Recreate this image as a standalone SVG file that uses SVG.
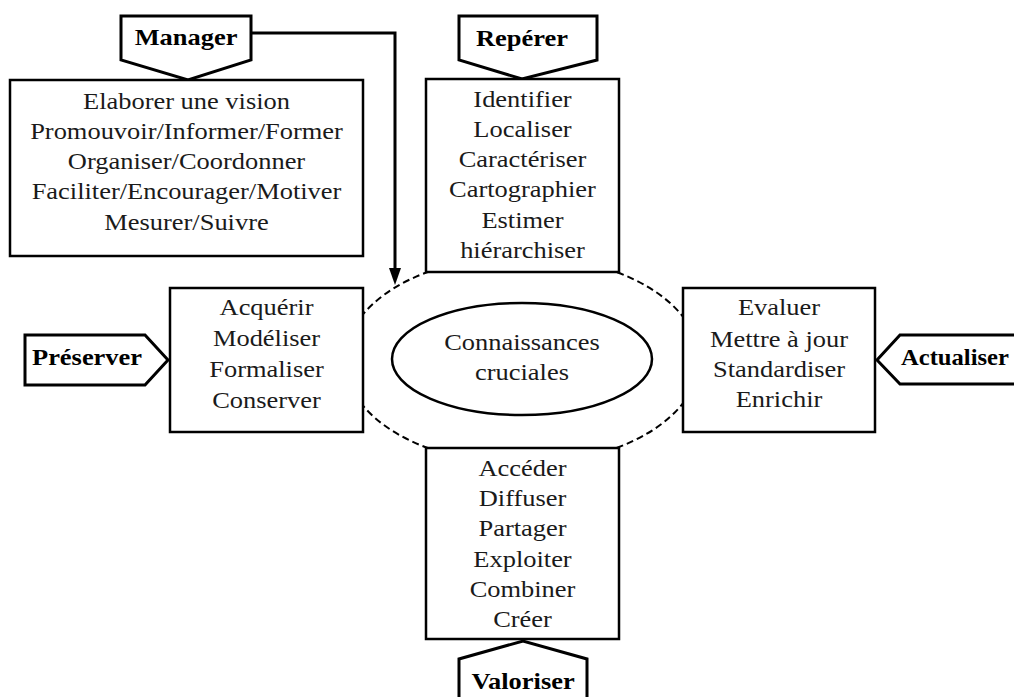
<svg xmlns="http://www.w3.org/2000/svg" width="1014" height="697" viewBox="0 0 1014 697">
<style>
.box{fill:#fff;stroke:#000;stroke-width:2.5}
.tag{fill:#fff;stroke:#000;stroke-width:3;stroke-linejoin:miter}
.t{font-family:"Liberation Serif","Times New Roman",serif;font-size:23px;fill:#1a1a1a;text-anchor:middle}
.b{font-family:"Liberation Serif","Times New Roman",serif;font-size:23px;font-weight:bold;fill:#000}
.dash{fill:none;stroke:#000;stroke-width:2;stroke-dasharray:7 4}
.line{fill:none;stroke:#000;stroke-width:3}
</style>
<rect width="1014" height="697" fill="#fff"/>
<ellipse class="dash" cx="522" cy="360" rx="177" ry="104"/>
<g id="connectors">
<polyline class="line" points="251,33 395,33 395,268"/>
<path d="M389,268 L401,268 L395,285 Z" fill="#000"/>
</g>
<g id="manager-tag">
<polygon class="tag" points="121,16 251,16 251,60 188,80 121,60"/>
<text class="b" text-anchor="middle" transform="translate(186 0) scale(1.15 1)" y="45">Manager</text>
</g>
<g id="manager-box">
<rect class="box" x="10" y="80" width="353" height="176"/>
<g transform="translate(186.5 0) scale(1.15 1)">
<text class="t" y="109">Elaborer une vision</text>
<text class="t" y="139">Promouvoir/Informer/Former</text>
<text class="t" y="169">Organiser/Coordonner</text>
<text class="t" y="199">Faciliter/Encourager/Motiver</text>
<text class="t" y="230">Mesurer/Suivre</text>
</g>
</g>
<g id="reperer-tag">
<polygon class="tag" points="459,16 597,16 597,60 522,79 459,60"/>
<text class="b" text-anchor="middle" transform="translate(522 0) scale(1.15 1)" y="46">Repérer</text>
</g>
<g id="reperer-box">
<rect class="box" x="426" y="79" width="193" height="193"/>
<g transform="translate(522.5 0) scale(1.15 1)">
<text class="t" y="107">Identifier</text>
<text class="t" y="137">Localiser</text>
<text class="t" y="167">Caractériser</text>
<text class="t" y="197">Cartographier</text>
<text class="t" y="228">Estimer</text>
<text class="t" y="258">hiérarchiser</text>
</g>
</g>
<g id="preserver-tag">
<polygon class="tag" points="25,335 145,335 168,360 145,385 25,385"/>
<text class="b" transform="translate(32 0) scale(1.15 1)" x="0" y="365">Préserver</text>
</g>
<g id="preserver-box">
<rect class="box" x="170" y="288" width="193" height="144"/>
<g transform="translate(266.5 0) scale(1.15 1)">
<text class="t" y="315">Acquérir</text>
<text class="t" y="346">Modéliser</text>
<text class="t" y="377">Formaliser</text>
<text class="t" y="408">Conserver</text>
</g>
</g>
<g id="center">
<ellipse cx="522" cy="359" rx="130" ry="56" fill="#fff" stroke="#000" stroke-width="2.5"/>
<g transform="translate(522 0) scale(1.15 1)">
<text class="t" y="350">Connaissances</text>
<text class="t" y="380">cruciales</text>
</g>
</g>
<g id="actualiser-box">
<rect class="box" x="683" y="288" width="192" height="144"/>
<g transform="translate(779 0) scale(1.15 1)">
<text class="t" y="315">Evaluer</text>
<text class="t" y="347">Mettre à jour</text>
<text class="t" y="377">Standardiser</text>
<text class="t" y="407">Enrichir</text>
</g>
</g>
<g id="actualiser-tag">
<polygon class="tag" points="1020,335 900,335 877,360 900,384 1020,384"/>
<text class="b" transform="translate(901 0) scale(1.07 1)" x="0" y="365">Actualiser</text>
</g>
<g id="valoriser-box">
<rect class="box" x="426" y="448" width="193" height="191"/>
<g transform="translate(522.5 0) scale(1.15 1)">
<text class="t" y="476">Accéder</text>
<text class="t" y="506">Diffuser</text>
<text class="t" y="536">Partager</text>
<text class="t" y="567">Exploiter</text>
<text class="t" y="597">Combiner</text>
<text class="t" y="627">Créer</text>
</g>
</g>
<g id="valoriser-tag">
<polygon class="tag" points="459,700 459,659 523,641 587,659 587,700"/>
<text class="b" text-anchor="middle" transform="translate(523 0) scale(1.15 1)" y="689">Valoriser</text>
</g>
</svg>
